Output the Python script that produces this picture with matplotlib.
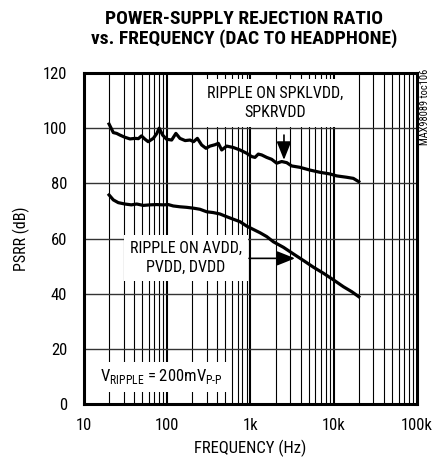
import matplotlib
matplotlib.use('Agg')
import matplotlib.pyplot as plt
from matplotlib import font_manager

# pick a narrow sans face from what is installed
names = {f.name for f in font_manager.fontManager.ttflist}
narrow = next((n for n in ['Roboto Condensed', 'Archivo Narrow', 'Barlow Semi Condensed']
               if n in names), 'DejaVu Sans')
plt.rcParams['font.family'] = [narrow, 'DejaVu Sans']
plt.rcParams['mathtext.fontset'] = 'custom'
plt.rcParams['mathtext.rm'] = narrow

# PSRR curves (dB) vs frequency (Hz)
freq_spk = [20, 22.5, 24.7, 27, 31, 35.7, 41, 45, 49, 54, 59, 68, 75, 80, 88, 98,
            113, 127, 142, 164, 188, 207, 230, 259, 292, 326, 375, 411, 451, 518,
            621, 748, 900, 1033, 1132, 1241, 1362, 1566, 1798, 2065, 2371, 2723,
            3127, 3934, 5188, 6840, 9020, 10840, 14310, 17190, 20000]
psrr_spk = [101.5, 98.4, 98.1, 97.5, 96.7, 96.1, 96.3, 96.2, 97.2, 96.0, 95.1, 96.3,
            98.1, 100.0, 97.5, 96.0, 95.7, 98.1, 96.3, 95.5, 95.7, 95.1, 96.3, 93.9,
            92.7, 93.5, 94.0, 94.5, 92.1, 93.5, 93.0, 92.1, 90.9, 89.7, 89.4, 90.6,
            90.3, 89.4, 88.7, 87.3, 87.9, 87.5, 86.3, 85.8, 84.8, 84.0, 83.4, 82.7,
            82.2, 81.8, 80.6]

freq_avdd = [20, 22.5, 25.8, 31, 37, 43, 51.6, 62, 74.5, 89, 103, 118, 142, 171,
             206, 247, 297, 357, 429, 518, 621, 748, 900, 1080, 1300, 1566, 1886,
             2490, 3280, 4340, 5700, 7530, 9930, 13100, 16500, 20000]
psrr_avdd = [75.8, 74.0, 73.0, 72.5, 72.2, 72.5, 72.0, 72.2, 72.3, 72.2, 72.3, 71.8,
             71.5, 71.3, 71.0, 70.6, 69.7, 69.4, 68.9, 67.9, 67.0, 66.1, 64.5, 63.3,
             62.1, 60.7, 58.8, 56.8, 54.4, 52.0, 49.6, 47.4, 45.0, 42.5, 40.7, 38.9]

yticks = [0, 20, 40, 60, 80, 100, 120]
xticks = [10, 100, 1000, 10000, 100000]
xticklabels = ['10', '100', '1k', '10k', '100k']

fig = plt.figure(figsize=(4.33, 4.62), dpi=100)
ax = fig.add_axes([0.194, 0.1255, 0.769, 0.7165])
ax.set_xscale('log')
ax.set_xlim(10, 100000)
ax.set_ylim(0, 120)

# grid: decade lines heavier, minor lines thin
for dec in [10, 100, 1000, 10000]:
    for m in range(2, 10):
        ax.axvline(dec * m, color='black', lw=0.8, zorder=1)
for dec in [100, 1000, 10000]:
    ax.axvline(dec, color='black', lw=1.5, zorder=1)
for y in yticks[1:-1]:
    ax.axhline(y, color='#333333', lw=1.0, zorder=1)

ax.plot(freq_spk, psrr_spk, color='black', lw=2.3, zorder=4)
ax.plot(freq_avdd, psrr_avdd, color='black', lw=2.3, zorder=4)

ax.set_xticks(xticks)
ax.set_xticklabels(xticklabels)
ax.xaxis.set_minor_locator(matplotlib.ticker.NullLocator())
ax.set_yticks(yticks)
ax.tick_params(axis='both', length=0, labelsize=12)
ax.tick_params(axis='y', pad=12)
ax.tick_params(axis='x', pad=10)
for s in ax.spines.values():
    s.set_linewidth(2.2)
    s.set_zorder(6)

ax.set_xlabel('FREQUENCY (Hz)', fontsize=12, labelpad=5)
ax.set_ylabel('PSRR (dB)', fontsize=11.5, labelpad=9)

arrow = dict(arrowstyle='-|>,head_length=0.8,head_width=0.32', color='black',
             lw=1.2, mutation_scale=14, shrinkA=0, shrinkB=0)

ax.text(2000, 109, 'RIPPLE ON SPKLVDD,\nSPKRVDD', ha='center', va='center',
        fontsize=11.5, linespacing=1.35,
        bbox=dict(facecolor='white', edgecolor='none', pad=5), zorder=3)
ax.annotate('', xy=(2525, 88.5), xytext=(2525, 97.5), zorder=5, arrowprops=arrow)

ax.text(168, 52.9, 'RIPPLE ON AVDD,\nPVDD, DVDD', ha='center', va='center',
        fontsize=11.5, linespacing=1.35,
        bbox=dict(facecolor='white', edgecolor='none', pad=4), zorder=3)
ax.annotate('', xy=(3430, 52.8), xytext=(960, 52.8), zorder=5, arrowprops=arrow)

ax.text(15.6, 9.8, r'V$_{\mathregular{RIPPLE}}$ = 200mV$_{\mathregular{P\text{-}P}}$',
        ha='left', va='center', fontsize=12,
        bbox=dict(facecolor='white', edgecolor='none', pad=4), zorder=3)

fig.text(0.5635, 0.978, 'POWER-SUPPLY REJECTION RATIO\nvs. FREQUENCY (DAC TO HEADPHONE)',
         ha='center', va='top', fontsize=14, fontweight='bold', linespacing=1.1)
fig.text(0.982, 0.768, 'MAX98089 toc106', rotation=90, ha='center', va='center',
         fontsize=7.5)

fig.savefig('out.png', dpi=100)
